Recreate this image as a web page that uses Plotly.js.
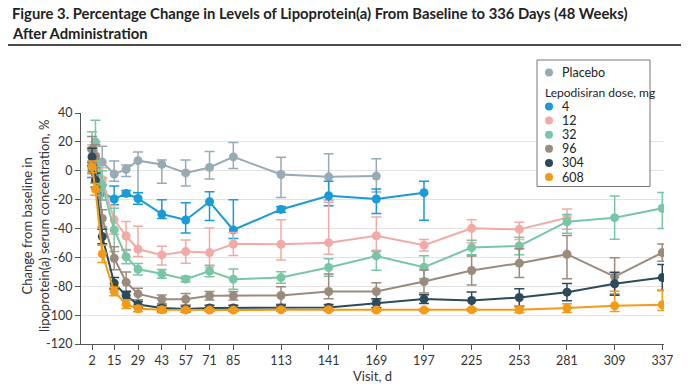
<!DOCTYPE html>
<html>
<head>
<meta charset="utf-8">
<script src="https://cdn.plot.ly/plotly-3.0.1.min.js"></script>
<style>html,body{margin:0;padding:0;background:#fff;}#chart{width:690px;height:388px;}</style>
</head>
<body>
<div id="chart"></div>
<script>
var days = [2, 4, 8, 15, 22, 29, 43, 57, 71, 85, 113, 141, 169, 197, 225, 253, 281, 309, 337];
var xTicks = [2, 15, 29, 43, 57, 71, 85, 113, 141, 169, 197, 225, 253, 281, 309, 337];
var yTicks = [40, 20, 0, -20, -40, -60, -80, -100, -120];
var yTickText = ['40', '20', '0', '-20', '-40', '-60', '-80', '-100', '-120'];

var seriesNames = ['Placebo', '4', '12', '32', '96', '304', '608'];
var seriesColors = ['#97abb5', '#1a9ad6', '#f2aaa6', '#78c6a5', '#9a8b7d', '#2c4a5a', '#f39b16'];
var legendHeader = 'Lepodisiran dose, mg';
var titleLines = ['Figure 3. Percentage Change in Levels of Lipoprotein(a) From Baseline to 336 Days (48 Weeks)', 'After Administration'];
var yTitle = 'Change from baseline in<br>lipoprotein(a) serum concentration, %';
var xTitle = 'Visit, d';

var placebo = [6, 10, 6, -2.3, 1, 7, 4.4, -1.5, 2.3, 9.6, -2.6, -4.2, -3.7, null, null, null, null, null, null];
var placeboUp = [8, 10, 11, 9, 3, 6, 3, 9, 11, 10, 12, 16, 12];
var placeboDn = [8, 10, 11, 5, 5, 22, 13, 9, 8, 8, 16, 16, 11];

var dose4 = [0.4, -3, -15, -19.6, -15.7, -19.2, -30, -34.1, -21.5, -41, -26.8, -17.3, -19.6, -15.2, null, null, null, null, null];
var dose4Up = [5, 5, 5, 9, 2, 4, 10, 12, 7, 21, 2, 10, 7, 8];
var dose4Dn = [5, 5, 5, 4, 2, 4, 3, 9, 13, 6, 2, 7, 10, 19];

var dose12 = [10, 4, -6, -34, -45.2, -54.4, -58.3, -56, -56.7, -50.7, -50.9, -49.8, -45, -51.6, -39.9, -40.6, -32.5, null, null];
var dose12Up = [8, 8, 8, 10, 10, 16, 6, 8, 17, 8, 17, 28, 13, 4, 6, 5, 6];
var dose12Dn = [8, 8, 8, 10, 10, 5, 7, 8, 10, 8, 11, 8, 10, 4, 10, 7, 8];

var dose32 = [15, 20, -10, -41, -59.5, -68.2, -71.4, -75.1, -69.4, -75.1, -74, -67, -59, -66.8, -53.2, -52.1, -35.3, -32.5, -26];
var dose32Up = [12, 15, 10, 15, 5, 4, 3, 2, 4, 7, 4, 6, 3, 8, 5, 6, 5, 15, 11];
var dose32Dn = [12, 15, 10, 15, 5, 4, 3, 2, 4, 7, 4, 6, 10, 8, 5, 6, 8, 15, 14];

var dose96 = [14.7, 10, -33, -60.6, -77.2, -85.3, -89, -89, -86.6, -86.6, -86.4, -83.6, -83.6, -76.7, -69.1, -64, -57.8, -73.3, -56.7];
var dose96Up = [9, 8, 6, 8, 7, 4, 3, 4, 3, 3, 6, 12, 6, 8, 10, 10, 13, 13, 6];
var dose96Dn = [9, 8, 6, 8, 7, 4, 3, 4, 3, 3, 6, 5, 6, 8, 10, 10, 17, 12, 6];

var dose304 = [9.6, -6.5, -45.6, -77.9, -86.4, -92.6, -95.1, -95.8, -95.1, -95.1, -95.1, -94.7, -91.7, -88.9, -89.9, -87.8, -84.1, -78.3, -74];
var dose304Up = [6, 5, 5, 4, 3, 2, 2, 2, 2, 2, 2, 2, 3, 3, 6, 6, 6, 8, 9];
var dose304Dn = [6, 5, 5, 4, 3, 2, 2, 2, 2, 2, 2, 2, 3, 3, 6, 6, 6, 8, 9];

var dose608 = [2.7, -12.9, -57.6, -83.6, -92.4, -95.6, -96.3, -96.5, -96.5, -96.5, -96.3, -96.3, -96.5, -96.5, -96.3, -96.3, -95.1, -93.5, -92.8];
var dose608Up = [4, 4, 6, 3, 3, 2, 2, 1, 1, 1, 1, 1, 1, 1, 1, 2, 3, 10, 10];
var dose608Dn = [4, 4, 6, 3, 3, 2, 2, 1, 1, 1, 1, 1, 1, 1, 1, 2, 3, 4, 4];

var allY = [placebo, dose4, dose12, dose32, dose96, dose304, dose608];
var allUp = [placeboUp, dose4Up, dose12Up, dose32Up, dose96Up, dose304Up, dose608Up];
var allDn = [placeboDn, dose4Dn, dose12Dn, dose32Dn, dose96Dn, dose304Dn, dose608Dn];

var FONT = 'Lato, "Open Sans", sans-serif';
var W = 690, H = 388, ML = 81, MR = 26, MT = 113, MB = 44;
var PW = W - ML - MR, PH = H - MT - MB;
function px(xp) { return (xp - ML) / PW; }
function py(yp) { return (H - MB - yp) / PH; }

var traces = [];
for (var i = 0; i < allY.length; i++) {
  traces.push({
    type: 'scatter', mode: 'lines+markers', x: days, y: allY[i],
    name: seriesNames[i], showlegend: false,
    line: {color: seriesColors[i], width: 2},
    marker: {color: seriesColors[i], size: 9},
    error_y: {type: 'data', symmetric: false, array: allUp[i], arrayminus: allDn[i],
      color: seriesColors[i], thickness: 1.5, width: 5}
  });
}

// custom legend (box, symbols, labels)
var shapes = [
  {type: 'line', xref: 'paper', yref: 'paper', x0: px(8), x1: px(681), y0: py(45), y1: py(45),
    line: {color: '#111', width: 1.5}},
  {type: 'rect', xref: 'paper', yref: 'paper', x0: px(537), x1: px(650), y0: py(60), y1: py(186.5),
    fillcolor: '#fff', line: {color: '#777', width: 1}, layer: 'above'}
];
var annotations = [
  {xref: 'paper', yref: 'paper', x: px(10), y: py(13), xanchor: 'left', yanchor: 'middle', showarrow: false,
    text: titleLines[0], font: {family: FONT, size: 14.8, color: '#222', weight: 700}},
  {xref: 'paper', yref: 'paper', x: px(10), y: py(33), xanchor: 'left', yanchor: 'middle', showarrow: false,
    text: titleLines[1], font: {family: FONT, size: 14.8, color: '#222', weight: 700}},
  {xref: 'paper', yref: 'paper', x: px(35), y: py(226), xanchor: 'center', yanchor: 'middle', showarrow: false,
    textangle: -90, text: yTitle, font: {family: FONT, size: 13, color: '#333'}},
  {xref: 'paper', yref: 'paper', x: px(543), y: py(92), xanchor: 'left', yanchor: 'middle', showarrow: false,
    text: legendHeader, font: {family: FONT, size: 12, color: '#222'}}
];
var rowY = [72.5];
for (var k = 1; k < seriesNames.length; k++) rowY.push(106.5 + (k - 1) * 14.1);
for (var j = 0; j < seriesNames.length; j++) {
  shapes.push({type: 'circle', xref: 'paper', yref: 'paper', xsizemode: 'pixel', ysizemode: 'pixel',
    xanchor: px(549), yanchor: py(rowY[j]), x0: -4, x1: 4, y0: -4, y1: 4,
    fillcolor: seriesColors[j], line: {width: 0}, layer: 'above'});
  annotations.push({xref: 'paper', yref: 'paper', x: px(560), y: py(rowY[j]), xanchor: 'left', yanchor: 'middle',
    showarrow: false, text: seriesNames[j], font: {family: FONT, size: 12.5, color: '#222'}});
}

var layout = {
  width: W, height: H,
  margin: {l: ML, r: MR, t: MT, b: MB},
  paper_bgcolor: '#fff', plot_bgcolor: '#fff',
  font: {family: FONT, color: '#333', size: 12},
  showlegend: false,
  xaxis: {
    range: [-4.5, 338], tickmode: 'array', tickvals: xTicks, ticktext: xTicks.map(String),
    showgrid: false, zeroline: false, showline: true, linecolor: '#555', linewidth: 1,
    ticks: 'outside', ticklen: 5, tickcolor: '#555',
    tickfont: {size: 12.5, color: '#333'},
    title: {text: xTitle, font: {size: 13, color: '#333'}, standoff: 3}
  },
  yaxis: {
    range: [-120, 40], tickmode: 'array', tickvals: yTicks, ticktext: yTickText,
    showgrid: true, gridcolor: '#e3e3e3', gridwidth: 1, zeroline: false,
    showline: true, linecolor: '#555', linewidth: 1,
    ticks: 'outside', ticklen: 5, tickcolor: '#555',
    tickfont: {size: 12.5, color: '#333'}
  },
  shapes: shapes,
  annotations: annotations
};

Plotly.newPlot('chart', traces, layout, {displayModeBar: false, staticPlot: true});
</script>
</body>
</html>
